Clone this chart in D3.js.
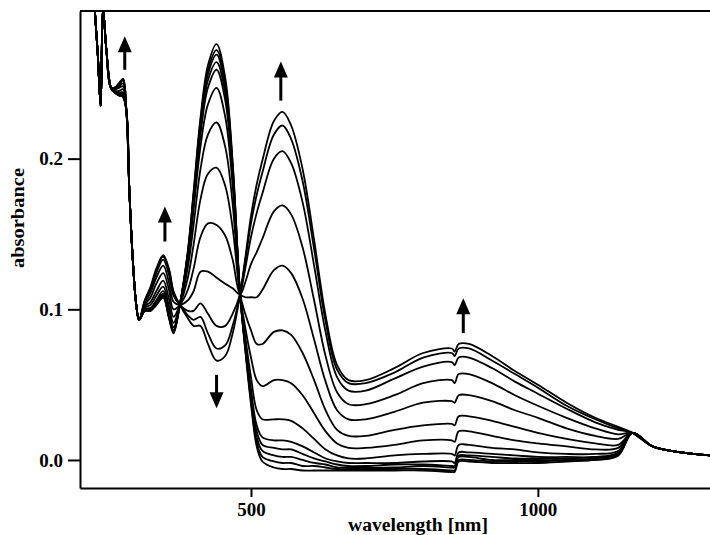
<!DOCTYPE html>
<html>
<head>
<meta charset="utf-8">
<script src="https://cdn.jsdelivr.net/npm/d3@7/dist/d3.min.js"></script>
<style>
  body { margin: 0; background: #fff; }
  .axis text { font-family: 'Liberation Serif', 'Times New Roman', serif; font-weight: bold; font-size: 19px; fill: #000; }
  .axis path, .axis line { stroke: #000; stroke-width: 2; }
  .axis-title { font-family: 'Liberation Serif', 'Times New Roman', serif; font-weight: bold; font-size: 18px; fill: #000; }
  .scan { fill: none; stroke: #000; stroke-width: 1.8; stroke-linejoin: round; }
</style>
</head>
<body>
<div id="chart"></div>
<script>
// wavelength grid (nm) shared by every scan
const wavelengths = [215, 228, 233, 238, 242, 248, 256, 262, 270, 277, 283, 288, 294, 300, 305,
  315, 325, 335, 347, 357, 365, 376, 390, 400, 412, 425, 440, 455, 468, 481,
  490, 500, 510, 520, 540, 555, 570, 590, 610, 630, 650, 670, 700, 750, 800,
  850, 855, 862, 880, 920, 960, 1000, 1050, 1100, 1140, 1165, 1200, 1250, 1300];

// absorbance of each scan of the titration, first to last
const scan01 = [.400,.298,.269,.235,.300,.272,.247, .244,.242,.241, .231,.179,.133,.103,.093, .099,.099,.103,.108,.094,.084, .103,
  .139,.178,.227,.262,.276,.254,.198, .110,
  .073,.037,.009,-.001,-.005,-.006,-.006,-.007,-.007,-.007,-.007,-.007,-.007,-.007,-.007,-.008,-.008,-.001,-.001,-.002,-.002,-.002,-.001,.000,.003,
  .018,.009,.005,.003];
const scan02 = [.400,.298,.269,.235,.300,.272,.247, .244,.242,.241, .231,.179,.133,.103,.093, .099,.099,.103,.108,.095,.085, .103,
  .138,.177,.225,.259,.272,.251,.196, .110,
  .074,.039,.012,.002,-.001,-.002,-.002,-.004,-.004,-.005,-.006,-.006,-.006,-.006,-.006,-.007,-.007,.000,.000,-.001,-.001,-.001,.000,.000,.003,
  .018,.009,.005,.003];
const scan03 = [.400,.298,.269,.235,.300,.272,.247, .244,.242,.241, .231,.179,.133,.103,.093, .099,.100,.104,.109,.095,.085, .103,
  .137,.175,.222,.256,.269,.248,.194, .110,
  .075,.041,.015,.006,.003,.002,.002,.000,-.002,-.003,-.005,-.005,-.005,-.005,-.004,-.005,-.005,.002,.002,.000,.000,.000,.000,.001,.004,
  .018,.009,.005,.003];
const scan04 = [.400,.298,.269,.235,.300,.272,.247, .244,.242,.242, .231,.179,.133,.103,.093, .099,.100,.104,.110,.096,.086, .103,
  .137,.173,.219,.252,.264,.244,.192, .110,
  .076,.044,.019,.010,.008,.007,.007,.004,.001,-.001,-.003,-.004,-.004,-.003,-.003,-.004,-.004,.003,.003,.002,.001,.001,.001,.002,.004,
  .018,.009,.005,.003];
const scan05 = [.400,.298,.269,.235,.300,.272,.247, .244,.243,.242, .231,.179,.133,.103,.093, .100,.100,.105,.110,.097,.086, .103,
  .135,.171,.216,.247,.259,.239,.189, .110,
  .078,.047,.023,.015,.013,.013,.012,.009,.005,.001,-.001,-.002,-.002,-.002,-.001,-.001,-.002,.005,.005,.004,.003,.002,.002,.002,.005,
  .018,.009,.005,.003];
const scan06 = [.400,.298,.269,.235,.300,.272,.247, .244,.243,.243, .231,.179,.133,.103,.093, .100,.101,.106,.112,.099,.088, .103,
  .133,.166,.208,.236,.247,.228,.182, .110,
  .082,.055,.033,.027,.027,.027,.026,.021,.014,.007,.003,.001,.001,.003,.004,.004,.003,.010,.010,.008,.007,.005,.004,.004,.006,
  .018,.009,.005,.003];
const scan07 = [.400,.298,.269,.235,.300,.272,.247, .245,.244,.244, .231,.179,.133,.103,.093, .101,.103,.109,.115,.102,.091, .103,
  .128,.156,.193,.216,.224,.208,.170, .110,
  .088,.068,.053,.049,.053,.053,.051,.043,.031,.019,.011,.008,.008,.010,.013,.013,.012,.019,.019,.016,.013,.011,.009,.007,.008,
  .018,.009,.005,.003];
const scan08 = [.400,.298,.269,.235,.300,.272,.247, .245,.245,.246, .231,.179,.133,.103,.093, .102,.105,.112,.119,.107,.095, .103,
  .121,.143,.173,.190,.194,.182,.154, .110,
  .097,.086,.077,.077,.085,.086,.083,.071,.053,.033,.020,.016,.016,.020,.023,.024,.023,.029,.029,.026,.022,.018,.014,.011,.010,
  .018,.009,.005,.003];
const scan09 = [.400,.298,.269,.235,.300,.272,.247, .246,.247,.248, .231,.179,.133,.103,.093, .103,.108,.117,.124,.113,.100, .103,
  .113,.127,.148,.157,.156,.149,.133, .110,
  .108,.108,.108,.113,.126,.129,.124,.107,.080,.052,.033,.027,.027,.032,.038,.039,.038,.043,.043,.039,.033,.028,.021,.016,.014,
  .018,.009,.005,.003];
const scan10 = [.400,.298,.269,.235,.300,.272,.247, .246,.248,.250, .231,.179,.133,.103,.093, .104,.111,.121,.129,.118,.105, .103,
  .106,.112,.125,.125,.121,.117,.114, .110,
  .118,.130,.138,.147,.165,.169,.163,.141,.106,.069,.045,.037,.037,.043,.051,.053,.051,.057,.057,.051,.043,.036,.028,.021,.017,
  .018,.009,.005,.003];
const scan11 = [.400,.298,.269,.235,.300,.272,.247, .247,.249,.252, .231,.179,.133,.103,.093, .105,.113,.124,.133,.123,.109, .103,
  .099,.099,.104,.097,.089,.089,.097, .110,
  .127,.148,.164,.177,.200,.205,.197,.171,.129,.085,.055,.046,.046,.054,.062,.065,.063,.068,.068,.061,.052,.044,.034,.025,.020,
  .018,.009,.005,.003];
const scan12 = [.400,.298,.269,.235,.300,.272,.247, .247,.250,.253, .231,.179,.133,.103,.093, .106,.114,.126,.135,.126,.111, .103,
  .096,.093,.095,.084,.074,.076,.089, .110,
  .132,.157,.176,.191,.216,.222,.213,.185,.140,.092,.060,.051,.051,.058,.068,.071,.069,.074,.074,.066,.057,.048,.036,.027,.021,
  .018,.009,.005,.003];
const scan13 = [.400,.298,.269,.235,.300,.272,.247, .247,.250,.253, .231,.179,.133,.103,.093, .106,.115,.127,.136,.127,.112, .103,
  .094,.089,.089,.077,.066,.069,.084, .110,
  .134,.162,.183,.199,.225,.231,.222,.193,.146,.096,.063,.053,.053,.061,.071,.074,.072,.077,.077,.069,.059,.050,.038,.028,.022,
  .018,.009,.005,.003];

const scans = [scan01, scan02, scan03, scan04, scan05, scan06, scan07, scan08, scan09, scan10, scan11, scan12, scan13];

// tick labels
const xTicks = [500, 1000];
const yTicks = [0.0, 0.1, 0.2];

// arrows showing the direction of change (wavelength, start absorbance, tip absorbance)
const arrowWl = [280, 350, 440, 552, 870];
const arrowFrom = [0.259, 0.145, 0.0565, 0.2385, 0.0842];
const arrowTo = [0.2813, 0.1683, 0.0344, 0.2645, 0.1074];

class SpectraChart {
    constructor(_config) {
        this.config = {
            parentElement: _config.parentElement,
            containerWidth: _config.containerWidth || 710,
            containerHeight: _config.containerHeight || 535,
            margin: _config.margin || {top: 11, right: 0, bottom: 47, left: 80},
        };
        this.initVis();
    }

    initVis() {
        let vis = this;

        vis.width = vis.config.containerWidth - vis.config.margin.left - vis.config.margin.right;
        vis.height = vis.config.containerHeight - vis.config.margin.top - vis.config.margin.bottom;

        vis.svg = d3.select(vis.config.parentElement)
            .append('svg')
            .attr('width', vis.config.containerWidth)
            .attr('height', vis.config.containerHeight);

        vis.chart = vis.svg.append('g')
            .attr('transform', `translate(${vis.config.margin.left},${vis.config.margin.top})`);

        vis.xScale = d3.scaleLinear()
            .domain([202, 1300])
            .range([0, vis.width]);

        vis.yScale = d3.scaleLinear()
            .domain([-0.0186, 0.298])
            .range([vis.height, 0]);

        vis.xAxis = d3.axisBottom(vis.xScale)
            .tickValues(xTicks)
            .tickFormat(d3.format('d'))
            .tickSize(9)
            .tickSizeOuter(0)
            .tickPadding(6);

        vis.yAxis = d3.axisLeft(vis.yScale)
            .tickValues(yTicks)
            .tickFormat(d3.format('.1f'))
            .tickSize(12)
            .tickSizeOuter(0)
            .tickPadding(5);

        vis.chart.append('clipPath')
            .attr('id', 'plot-clip')
            .append('rect')
            .attr('width', vis.width)
            .attr('height', vis.height);

        vis.linesG = vis.chart.append('g').attr('clip-path', 'url(#plot-clip)');
        vis.arrowsG = vis.chart.append('g');

        vis.xAxisG = vis.chart.append('g')
            .attr('class', 'axis x-axis')
            .attr('transform', `translate(0,${vis.height})`);

        vis.yAxisG = vis.chart.append('g')
            .attr('class', 'axis y-axis');

        // top frame line
        vis.chart.append('line')
            .attr('x1', 0).attr('x2', vis.width)
            .attr('y1', 0).attr('y2', 0)
            .attr('stroke', '#000')
            .attr('stroke-width', 2);

        vis.svg.append('text')
            .attr('class', 'axis-title')
            .attr('x', 418)
            .attr('y', 531)
            .attr('text-anchor', 'middle')
            .attr('textLength', 140)
            .attr('lengthAdjust', 'spacingAndGlyphs')
            .text('wavelength [nm]');

        vis.svg.append('text')
            .attr('class', 'axis-title')
            .attr('transform', 'translate(24,218) rotate(-90)')
            .attr('text-anchor', 'middle')
            .attr('textLength', 100)
            .attr('lengthAdjust', 'spacingAndGlyphs')
            .text('absorbance');
    }

    renderVis() {
        let vis = this;

        const line = d3.line()
            .x((d, i) => vis.xScale(wavelengths[i]))
            .y(d => vis.yScale(d))
            .curve(d3.curveCatmullRom.alpha(0.5));

        vis.linesG.selectAll('path')
            .data(scans)
            .join('path')
            .attr('class', 'scan')
            .attr('d', line);

        // arrows: shaft + solid head
        const headLen = 16, headHalf = 7;
        arrowWl.forEach((wl, i) => {
            const x = vis.xScale(wl);
            const y0 = vis.yScale(arrowFrom[i]);
            const y1 = vis.yScale(arrowTo[i]);
            const dir = y1 < y0 ? 1 : -1;
            vis.arrowsG.append('line')
                .attr('x1', x).attr('x2', x)
                .attr('y1', y0).attr('y2', y1 + dir * (headLen - 2))
                .attr('stroke', '#000')
                .attr('stroke-width', 3);
            vis.arrowsG.append('path')
                .attr('d', `M${x},${y1} L${x - headHalf},${y1 + dir * headLen} L${x + headHalf},${y1 + dir * headLen} Z`)
                .attr('fill', '#000');
        });

        vis.xAxisG.call(vis.xAxis);
        vis.yAxisG.call(vis.yAxis);
    }
}

const chart = new SpectraChart({parentElement: '#chart'});
chart.renderVis();
</script>
</body>
</html>
